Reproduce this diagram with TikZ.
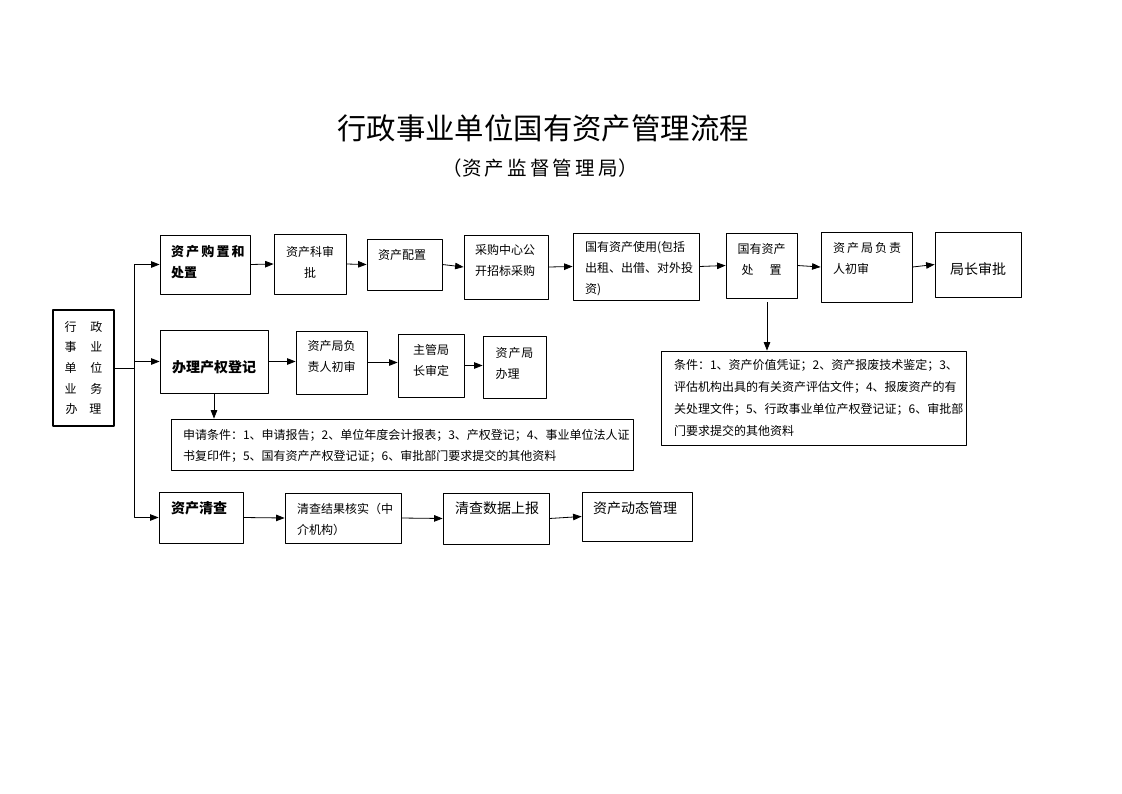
\documentclass[tikz,border=0pt]{standalone}
\usepackage{fontspec}
\setmainfont{Noto Sans CJK SC}
\usetikzlibrary{arrows.meta}
\usetikzlibrary{positioning}

\tikzset{
  box/.style={draw,line width=0.8pt,inner sep=0pt},
  txt/.style={inner sep=0pt,font=\fontsize{12}{21}\selectfont,align=left},
  bigtxt/.style={inner sep=0pt,font=\fontsize{14}{21}\selectfont,align=left},
  boldtxt/.style={inner sep=0pt,font=\fontsize{13}{21}\bfseries\selectfont,align=left},
  flow/.style={->,line width=0.8pt},
}

\begin{document}
\begin{tikzpicture}[line cap=round,line join=round,>={Triangle[length=8.5pt,width=6.5pt]},
		x=1pt,y=-1pt]
		\useasboundingbox (0,0) rectangle (1122,793);
		\node[font=\fontsize{29.4}{31}\selectfont] (title) at (543,128) {行政事业单位国有资产管理流程};
		\node[font=\fontsize{19.5}{21}\selectfont] (sub) at (540,168) {（资\,产\,监\,督\,管\,理\,局）};
		% left box
		\node[box,line width=2.5pt,minimum width=61pt,minimum height=116pt] (L) at (83.5,368) {};
		\node[txt,font=\fontsize{12}{20.7}\selectfont,align=center,text width=40pt] (Lt) at (L) {行\hspace{14pt}政\\事\hspace{14pt}业\\单\hspace{14pt}位\\业\hspace{14pt}务\\办\hspace{12pt}理};
		% first row
		\node[box,minimum width=90pt,minimum height=59pt] (B1) at (205,264.5) {};
		\node[boldtxt,text width=68pt] (B1t) at ([yshift=2.5pt]B1) {资\,产\,购\,置\,和\\处置};
		\node[box,minimum width=72pt,minimum height=60pt] (B2) at (310,264) {};
		\node[txt,align=center,text width=60pt] (B2t) at ([yshift=2pt]B2) {资产科审\\批};
		\node[box,minimum width=75pt,minimum height=51pt] (B3) at (404.5,264.5) {};
		\node[txt,text width=53pt] (B3t) at ([yshift=10pt]B3) {资产配置};
		\node[box,minimum width=84pt,minimum height=64pt] (B4) at (506,267) {};
		\node[txt,text width=62pt] (B4t) at ([yshift=6.5pt]B4) {采购中心公\\开招标采购};
		\node[box,minimum width=126pt,minimum height=67pt] (B5) at (636,266.5) {};
		\node[txt,text width=102pt] (B5t) at ([yshift=-2.5pt]B5) {国有资产使用(包括\\出租、出借、对外投\\资)};
		\node[box,minimum width=71pt,minimum height=65pt] (B6) at (761.5,265.5) {};
		\node[txt,align=center,text width=60pt] (B6t) at ([yshift=6pt]B6) {国有资产\\处\hspace{16pt}置};
		\node[box,minimum width=91pt,minimum height=70pt] (B7) at (866.5,267) {};
		\node[txt,text width=67pt] (B7t) at ([yshift=8.5pt]B7) {资\,产\,局\,负\,责\\人初审};
		\node[box,minimum width=86pt,minimum height=65pt] (B8) at (978,264.5) {};
		\node[bigtxt,align=center,text width=70pt] (B8t) at ([yshift=-4.5pt]B8) {局长审批};
		% second row
		\node[box,minimum width=108pt,minimum height=63pt] (C1) at (214,361.5) {};
		\node[boldtxt,font=\fontsize{14}{21}\bfseries\selectfont,align=center,text width=90pt] (C1t) at ([yshift=-5.5pt]C1) {办理产权登记};
		\node[box,minimum width=71pt,minimum height=63pt] (C2) at (331.5,362.5) {};
		\node[txt,align=center,text width=60pt] (C2t) at ([yshift=6pt]C2) {资产局负\\责人初审};
		\node[box,minimum width=66pt,minimum height=63pt] (C3) at (431,365.5) {};
		\node[txt,align=center,text width=56pt] (C3t) at ([yshift=5pt]C3) {主管局\\长审定};
		\node[box,minimum width=63pt,minimum height=62pt] (C4) at (514.5,367) {};
		\node[txt,text width=42pt,xshift=2pt] (C4t) at ([yshift=4pt]C4) {资\hspace{1pt}产\hspace{1pt}局\\办理};
		\node[box,minimum width=462pt,minimum height=51pt] (P1) at (402,444.5) {};
		\node[txt,text width=438pt] (P1t) at ([yshift=-1pt]P1) {申请条件：1、申请报告；2、单位年度会计报表；3、产权登记；4、事业单位法人证\\书复印件；5、国有资产产权登记证；6、审批部门要求提交的其他资料};
		\node[box,minimum width=305pt,minimum height=94pt] (P2) at (813.5,398) {};
		\node[txt,font=\fontsize{12}{22}\selectfont,text width=279pt] (P2t) at (P2) {条件：1、资产价值凭证；2、资产报废技术鉴定；3、\\评估机构出具的有关资产评估文件；4、报废资产的有\\关处理文件；5、行政事业单位产权登记证；6、审批部\\门要求提交的其他资料};
		% third row
		\node[box,minimum width=84pt,minimum height=51pt] (D1) at (201,517.5) {};
		\node[boldtxt,font=\fontsize{14}{21}\bfseries\selectfont,text width=60pt] (D1t) at ([yshift=9.5pt]D1) {资产清查};
		\node[box,minimum width=116pt,minimum height=50pt] (D2) at (343,518) {};
		\node[txt,text width=92pt] (D2t) at ([yshift=-1pt]D2) {清查结果核实（中\\介机构）};
		\node[box,minimum width=106pt,minimum height=51pt] (D3) at (496,518.5) {};
		\node[bigtxt,text width=82pt] (D3t) at ([yshift=10pt]D3) {清查数据上报};
		\node[box,minimum width=110pt,minimum height=49pt] (D4) at (637,516.5) {};
		\node[bigtxt,text width=88pt] (D4t) at ([yshift=8.5pt]D4) {资产动态管理};
		% connectors
		\coordinate (jn) at (134,368);
		\draw[line width=0.8pt] (L.east) -- (jn);
		\draw[flow] (jn) |- (B1.west);
		\draw[flow] (jn) |- (C1.west);
		\draw[flow] (jn) |- (D1.west);
		\draw[flow] (B1.east) -- (B2.west);
		\draw[flow] (B2.east) -- (B3.west);
		\draw[flow] (B3.east) -- (B4.west);
		\draw[flow] (B4.east) -- (B5.west);
		\draw[flow] (B5.east) -- (B6.west);
		\draw[flow] (B6.east) -- (B7.west);
		\draw[flow] (B7.east) -- (B8.west);
		\draw[flow] (C1.east) -- (C1.east -| C2.west);
		\draw[flow] (C2.east) -- (C2.east -| C3.west);
		\draw[flow] (C3.east) -- (C3.east -| C4.west);
		\draw[flow] (D1.east) -- (D2.west);
		\draw[flow] (D2.east) -- (D3.west);
		\draw[flow] (D3.east) -- (D4.west);
		\coordinate (dn) at ([xshift=5.5pt,yshift=-4pt]B6.south);%处置 -> 条件
		\draw[flow] (dn) -- (dn |- P2.north);
		\draw[flow] (C1.south) -- (C1.south |- P1.north);
\end{tikzpicture}
\end{document}
